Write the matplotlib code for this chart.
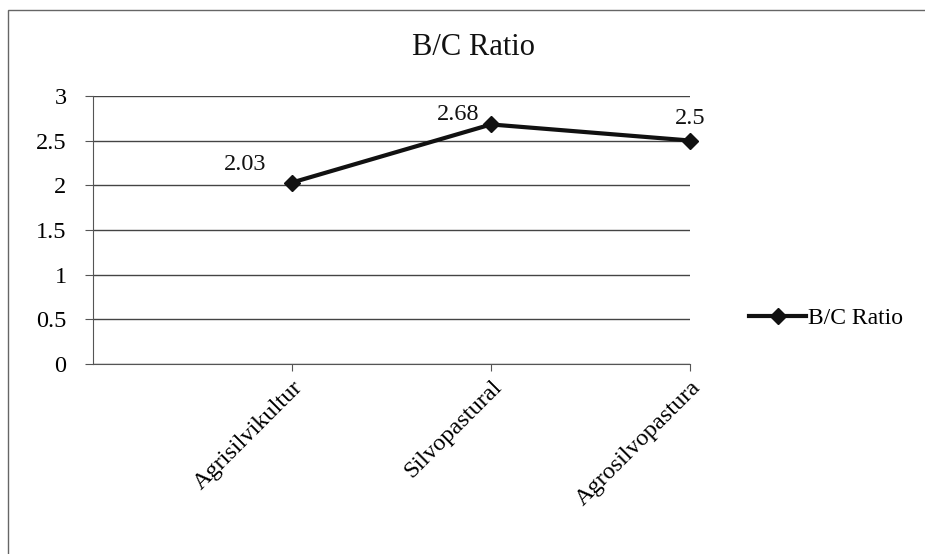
import matplotlib
matplotlib.use("Agg")
import matplotlib.pyplot as plt
from matplotlib.patches import Rectangle

categories = ["Agrisilvikultur", "Silvopastural", "Agrosilvopastura"]
values = [2.03, 2.68, 2.5]
labels = ["2.03", "2.68", "2.5"]
yticks = [0, 0.5, 1, 1.5, 2, 2.5, 3]
ytick_labels = ["0", "0.5", "1", "1.5", "2", "2.5", "3"]
series_name = "B/C Ratio"
title = "B/C Ratio"

plt.rcParams['font.family'] = ['Liberation Serif', 'DejaVu Serif']

fig = plt.figure(figsize=(9.25, 5.54), dpi=100)
ax = fig.add_axes([0.1005, 0.343, 0.6455, 0.484])

x = list(range(1, len(categories) + 1))
line, = ax.plot(x, values, color='#111111', lw=3, marker='D', ms=8,
                markerfacecolor='#111111', markeredgecolor='#111111', label=series_name,
                zorder=5, clip_on=False)

offsets = [(-34, 13), (-24, 7), (0, 16)]
for xi, v, lab, off in zip(x, values, labels, offsets):
    ax.annotate(lab, (xi, v), xytext=off, textcoords='offset points',
                ha='center', va='center', fontsize=17.5, color='#111111')

ax.set_xlim(0, 3)
ax.set_ylim(0, 3)
ax.set_yticks(yticks)
ax.set_yticklabels(ytick_labels, fontsize=17.5)
ax.set_xticks(x)
ax.set_xticklabels(categories, fontsize=17.5, rotation=45, ha='right', rotation_mode='anchor')
ax.grid(axis='y', color='#444444', lw=1)
ax.set_axisbelow(True)
for s in ['top', 'right']:
    ax.spines[s].set_visible(False)
ax.spines['left'].set_color('#555555')
ax.spines['bottom'].set_color('#555555')
ax.tick_params(axis='y', length=6, color='#555555', pad=13)
ax.tick_params(axis='x', length=5, color='#555555', pad=4)

fig.text(0.512, 0.915, title, ha='center', va='center', fontsize=22, color='#111111')

fig.legend(handles=[line], loc='center left', bbox_to_anchor=(0.80, 0.425),
           frameon=False, fontsize=17, handlelength=2.4, handletextpad=0.1, borderaxespad=0)

fig.patches.append(Rectangle((0.009, -0.1), 1.1, 1.082, transform=fig.transFigure,
                             fill=False, edgecolor='#666666', lw=1))

fig.savefig("out.png", dpi=100)
